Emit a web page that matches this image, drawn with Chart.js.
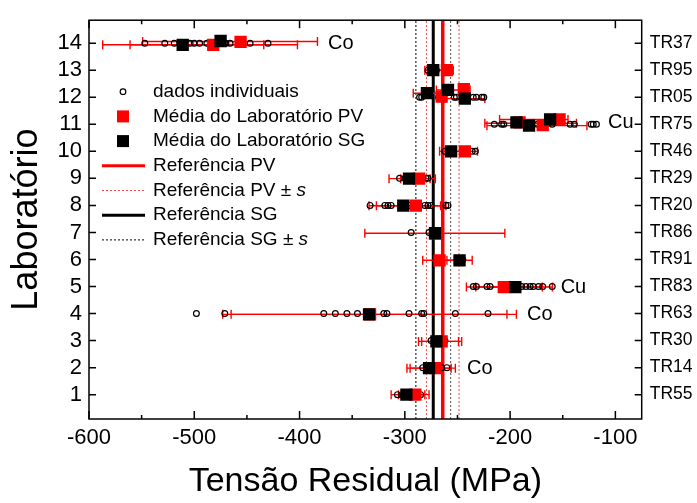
<!DOCTYPE html>
<html>
<head>
<meta charset="utf-8">
<script src="https://cdn.jsdelivr.net/npm/chart.js@4.4.0/dist/chart.umd.min.js"></script>
<style>
  html, body { margin: 0; padding: 0; background: #fff; }
</style>
</head>
<body>
<canvas id="chart" width="697" height="503"></canvas>
<script>
const FONT = "'Liberation Sans', Arial, sans-serif";

// laboratories (y axis) and their codes (right axis)
const labNums = [1, 2, 3, 4, 5, 6, 7, 8, 9, 10, 11, 12, 13, 14];
const labCodes = ['TR55', 'TR14', 'TR30', 'TR63', 'TR83', 'TR91', 'TR86',
                  'TR20', 'TR29', 'TR46', 'TR75', 'TR05', 'TR95', 'TR37'];

// individual results, one list per laboratory (MPa)
const indivByLab = [
  [-307, -303, -300, -296, -292, -288, -285],
  [-283, -279, -265, -260],
  [-275, -270, -262],
  [-498, -471, -377, -366, -355, -345, -320, -317, -296, -284, -282, -252, -221],
  [-235, -232, -222, -219, -189, -185, -181, -178, -173, -169, -160],
  [-270, -265, -250, -245],
  [-294, -277],
  [-333, -319, -316, -313, -295, -281, -278, -275, -261, -259],
  [-305, -300, -283, -280, -278],
  [-262, -236, -233],
  [-215, -208, -206, -174, -171, -160, -143, -139, -123, -121, -118],
  [-286, -284, -268, -265, -253, -251, -235, -232, -227, -225],
  [-278, -270, -262, -258],
  [-547, -528, -519, -504, -500, -495, -488, -470, -466, -447, -430]
];

// laboratory means, PV method
const pvX = [-290, -271, -265, -333, -206, -267, -271, -289.5, -286.5, -243, -191, -169, -153, -265, -244, -260, -482, -456];
const pvY = [1, 1.98, 2.97, 3.97, 4.98, 5.97, 6.97, 7.99, 8.99, 10, 11.07, 10.97, 11.18, 12.02, 12.3, 13, 13.94, 14.05];

// laboratory means, SG method
const sgX = [-298.5, -277, -270, -334, -195, -248, -271.4, -301.5, -296, -256, -194, -182, -162, -279, -259, -243, -273, -511, -475];
const sgY = [1, 1.98, 2.97, 3.97, 4.98, 5.97, 6.97, 7.99, 8.99, 10, 11.07, 10.95, 11.18, 12.15, 12.27, 11.95, 13, 13.94, 14.08];

// error bars (low / high ends)
const barY  = [1, 1, 1.98, 1.98, 2.97, 2.97, 3.97, 3.97, 4.98, 4.98, 5.97, 5.97, 6.97, 7.99, 7.99, 8.99, 8.99, 10, 10,
               11.04, 10.95, 11.18, 12.15, 12.27, 11.95, 13, 13, 13.94, 13.94, 14.06];
const barLo = [-313, -306, -298, -295, -287, -284, -473, -465, -241.5, -232.6, -283, -260, -338, -334, -327, -315, -304, -267, -263,
               -224, -222, -210, -292, -270, -262, -281, -278, -587, -561, -549];
const barHi = [-281, -277, -256, -252, -249, -246, -194, -203, -169.4, -159.8, -253, -236, -205, -261, -266, -271, -276, -231, -238,
               -137, -127, -145, -262, -238, -224, -254, -257, -402, -434, -383];

// reference values and standard deviations
const refPV = -264, sPV = 15.5;
const refSG = -273, sSG = 16.5;

const yMin = 0.1, yMax = 14.85;

// text notes next to some laboratories
const notes = [
  { text: 'Co', x: -373, y: 14 },
  { text: 'Cu', x: -107, y: 11.05 },
  { text: 'Cu', x: -152, y: 4.98 },
  { text: 'Co', x: -184, y: 3.97 },
  { text: 'Co', x: -241, y: 1.98 }
];

const indivPts = [];
indivByLab.forEach((vals, i) => vals.forEach(v => indivPts.push({ x: v, y: labNums[i] })));
const pvPts = pvX.map((v, i) => ({ x: v, y: pvY[i] }));
const sgPts = sgX.map((v, i) => ({ x: v, y: sgY[i] }));
const vline = v => [{ x: v, y: yMin }, { x: v, y: yMax }];

function refLine(v, color, width, dash) {
  return {
    data: vline(v), showLine: true, pointRadius: 0, borderColor: color,
    borderWidth: width, borderDash: dash, order: 5
  };
}

const errorBars = {
  id: 'errorBars',
  beforeDatasetDraw(chart, args) {
    if (args.index !== 0) return;
    const { ctx, scales: { x, y } } = chart;
    ctx.save();
    ctx.strokeStyle = 'rgb(255,0,0)';
    ctx.lineWidth = 1.4;
    barY.forEach((yv, i) => {
      const py = y.getPixelForValue(yv);
      const x1 = x.getPixelForValue(barLo[i]);
      const x2 = x.getPixelForValue(barHi[i]);
      ctx.beginPath();
      ctx.moveTo(x1, py); ctx.lineTo(x2, py);
      ctx.moveTo(x1, py - 4.5); ctx.lineTo(x1, py + 4.5);
      ctx.moveTo(x2, py - 4.5); ctx.lineTo(x2, py + 4.5);
      ctx.stroke();
    });
    ctx.restore();
  }
};

const frameAndTicks = {
  id: 'frameAndTicks',
  afterDraw(chart) {
    const { ctx, chartArea: a, scales: { x, y } } = chart;
    ctx.save();
    ctx.strokeStyle = '#000';
    ctx.lineWidth = 1.5;
    ctx.strokeRect(a.left, a.top, a.right - a.left, a.bottom - a.top);
    ctx.beginPath();
    x.ticks.forEach(t => {
      const px = x.getPixelForValue(t.value);
      const len = t.value % 100 === 0 ? 8 : 4;
      ctx.moveTo(px, a.bottom); ctx.lineTo(px, a.bottom - len);
      ctx.moveTo(px, a.top); ctx.lineTo(px, a.top + len);
    });
    y.ticks.forEach(t => {
      if (!Number.isInteger(t.value)) return;
      const py = y.getPixelForValue(t.value);
      ctx.moveTo(a.left, py); ctx.lineTo(a.left + 7, py);
      ctx.moveTo(a.right, py); ctx.lineTo(a.right - 7, py);
    });
    ctx.stroke();

    // notes
    ctx.fillStyle = '#000';
    ctx.font = '20px ' + FONT;
    ctx.textBaseline = 'middle';
    ctx.textAlign = 'left';
    notes.forEach(n => ctx.fillText(n.text, x.getPixelForValue(n.x), y.getPixelForValue(n.y)));

    // legend
    const mx = a.left + 34, lx1 = a.left + 13, lx2 = a.left + 56, tx = a.left + 64;
    const y0 = 91.7, dy = 24.7;
    const items = [
      { kind: 'circle', label: 'dados individuais' },
      { kind: 'rect', color: 'rgb(255,0,0)', label: 'Média do Laboratório PV' },
      { kind: 'rect', color: '#000', label: 'Média do Laboratório SG' },
      { kind: 'line', color: 'rgb(255,0,0)', width: 3, label: 'Referência PV' },
      { kind: 'dash', color: 'rgb(255,70,70)', label: 'Referência PV ± ', ital: 's' },
      { kind: 'line', color: '#000', width: 3, label: 'Referência SG' },
      { kind: 'dash', color: '#000', label: 'Referência SG ± ', ital: 's' }
    ];
    items.forEach((it, i) => {
      const py = y0 + i * dy;
      ctx.save();
      if (it.kind === 'circle') {
        ctx.strokeStyle = '#000'; ctx.lineWidth = 1.2;
        ctx.beginPath(); ctx.arc(mx, py, 2.8, 0, Math.PI * 2); ctx.stroke();
      } else if (it.kind === 'rect') {
        ctx.fillStyle = it.color;
        ctx.fillRect(mx - 6, py - 6, 12, 12);
      } else {
        ctx.strokeStyle = it.color;
        ctx.lineWidth = it.kind === 'line' ? it.width : 1;
        if (it.kind === 'dash') ctx.setLineDash([2, 2]);
        ctx.beginPath(); ctx.moveTo(lx1, py); ctx.lineTo(lx2, py); ctx.stroke();
      }
      ctx.restore();
      ctx.font = '19px ' + FONT;
      ctx.fillStyle = '#000';
      ctx.fillText(it.label, tx, py);
      if (it.ital) {
        const w = ctx.measureText(it.label).width;
        ctx.font = 'italic 19px ' + FONT;
        ctx.fillText(it.ital, tx + w, py);
      }
    });
    ctx.restore();
  }
};

new Chart(document.getElementById('chart').getContext('2d'), {
  type: 'scatter',
  data: {
    datasets: [
      { label: 'dados individuais', data: indivPts, pointStyle: 'circle', pointRadius: 2.9,
        borderColor: '#000', borderWidth: 1.2, backgroundColor: 'rgba(0,0,0,0)', order: 3 },
      { label: 'Média do Laboratório PV', data: pvPts, pointStyle: 'rect', pointRadius: 8.7,
        backgroundColor: 'rgb(255,0,0)', borderColor: 'rgb(255,0,0)', borderWidth: 0, order: 2 },
      { label: 'Média do Laboratório SG', data: sgPts, pointStyle: 'rect', pointRadius: 8.7,
        backgroundColor: '#000', borderColor: '#000', borderWidth: 0, order: 1 },
      refLine(refSG - sSG, '#000', 1, [2, 2]),
      refLine(refSG + sSG, '#555', 1, [2, 2]),
      refLine(refPV - sPV, 'rgb(255,70,70)', 1, [2, 2]),
      refLine(refPV + sPV, 'rgb(255,70,70)', 1, [2, 2]),
      refLine(refSG, '#000', 3, []),
      refLine(refPV, 'rgb(255,0,0)', 3.5, [])
    ]
  },
  options: {
    responsive: false,
    animation: false,
    layout: { padding: { top: 12, left: 0, right: 0, bottom: 0 } },
    plugins: { legend: { display: false }, tooltip: { enabled: false } },
    scales: {
      x: {
        type: 'linear', min: -600, max: -75,
        grid: { display: false, drawTicks: false },
        border: { display: false },
        ticks: {
          stepSize: 50, includeBounds: false, autoSkip: false, maxRotation: 0, padding: 6,
          color: '#000', font: { family: FONT, size: 22 },
          callback: v => (v % 100 === 0 ? v : '')
        },
        title: { display: true, text: 'Tensão Residual (MPa)', color: '#000',
                 font: { family: FONT, size: 34 }, padding: { top: 0, bottom: 1 } },
        afterFit: s => { s.height = 84; }
      },
      y: {
        type: 'linear', position: 'left', min: yMin, max: yMax,
        grid: { display: false, drawTicks: false },
        border: { display: false },
        ticks: {
          stepSize: 1, includeBounds: false, autoSkip: false, padding: 7,
          color: '#000', font: { family: FONT, size: 22 },
          callback: v => (Number.isInteger(v) ? v : '')
        },
        title: { display: true, text: 'Laboratório', color: '#000',
                 font: { family: FONT, size: 36 }, padding: { top: 5, bottom: 0 } },
        afterFit: s => { s.width = 89; }
      },
      y2: {
        type: 'linear', position: 'right', min: yMin, max: yMax,
        grid: { display: false, drawTicks: false },
        border: { display: false },
        ticks: {
          stepSize: 1, includeBounds: false, autoSkip: false, padding: 8,
          color: '#000', font: { family: FONT, size: 17.5 },
          callback: v => (Number.isInteger(v) && v >= 1 && v <= 14 ? labCodes[v - 1] : '')
        },
        afterFit: s => { s.width = 55.3; }
      }
    }
  },
  plugins: [errorBars, frameAndTicks]
});
</script>
</body>
</html>
